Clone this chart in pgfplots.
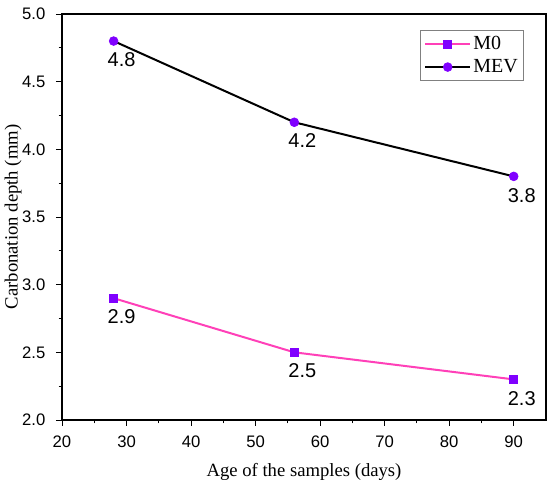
\documentclass[border=0pt]{standalone}
\usepackage{pgfplots}
\pgfplotsset{compat=1.18}
\usepackage{fontspec}
\setmainfont{Liberation Serif}
\newfontfamily\arial{Liberation Sans}
\definecolor{mpink}{HTML}{FF40B8}
\definecolor{mpurple}{HTML}{8000FF}
\begin{document}
\begin{tikzpicture}[x=1pt,y=1pt]
\path (0,0) rectangle (412.5,366);
\begin{axis}[
  at={(46.5pt,51pt)}, anchor=south west,
  width=363pt, height=304.5pt, scale only axis,
  xmin=20, xmax=95, ymin=2.0, ymax=5.0,
  xtick={20,30,...,90}, ytick={2.0,2.5,...,5.0},
  minor x tick num=1, minor y tick num=1,
  tick align=outside, tick pos=left,
  major tick length=4.5pt, minor tick length=2.5pt,
  every tick/.style={black, line width=0.7pt},
  axis line style={line width=0.9pt},
  /pgf/number format/assume math mode=true,
  xticklabel style={font=\arial\fontsize{12.5}{13}\selectfont, yshift=-4pt},
  yticklabel style={font=\arial\fontsize{12.5}{13}\selectfont, xshift=-4.5pt, /pgf/number format/fixed, /pgf/number format/fixed zerofill, /pgf/number format/precision=1},
  xlabel={Age of the samples (days)},
  ylabel={Carbonation depth (mm)},
  label style={font=\fontsize{14}{16}\selectfont},
  xlabel style={at={(axis description cs:0.5,-0.128)}, anchor=center},
  ylabel style={at={(axis description cs:-0.1012,0.5)}, anchor=center},
  legend style={at={(0.955,0.961)}, anchor=north east, draw=gray, line width=0.6pt, font=\fontsize{15}{16}\selectfont, inner sep=3pt, row sep=3pt, nodes={inner sep=1.5pt}},
  legend cell align=left,
  legend image code/.code={\draw[mark repeat=2,mark phase=2] plot coordinates {(0pt,0pt) (17pt,0pt) (34pt,0pt)};},
  nodes near coords, point meta=explicit symbolic,
  every node near coord/.style={anchor=north, inner sep=0pt, yshift=-8.5pt, xshift=6pt, font=\arial\fontsize{15}{16}\selectfont, black},
]
\addplot[mpink, line width=1.5pt, mark=square*, mark size=3pt, mark options={mpurple, draw=mpurple, line width=0.5pt}] coordinates {(28,2.9)[2.9] (56,2.5)[2.5] (90,2.3)[2.3]};
\addlegendentry{M0}
\addplot[black, line width=1.5pt, mark=*, mark size=3.3pt, mark options={mpurple, draw=mpurple, line width=0.5pt}] coordinates {(28,4.8)[4.8] (56,4.2)[4.2] (90,3.8)[3.8]};
\addlegendentry{MEV}
\end{axis}
\end{tikzpicture}
\end{document}
